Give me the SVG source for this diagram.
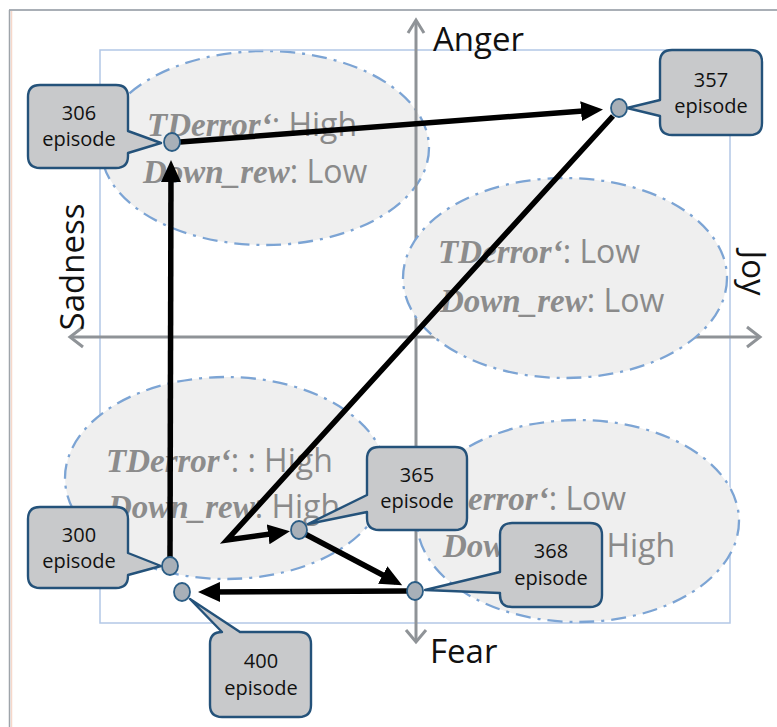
<svg xmlns="http://www.w3.org/2000/svg" width="777" height="727" viewBox="0 0 777 727">
  <defs>
    <style>
      .region { fill: #efefef; stroke: #7ca4d4; stroke-width: 2.3; stroke-dasharray: 15 7 3 7; }
      .rtext { font-family: "Open Sans", "Liberation Sans", sans-serif; font-size: 32px; fill: #8a8a8a; }
      .var { font-family: "Liberation Serif", serif; font-weight: bold; font-style: italic; font-size: 33px; fill: #8c8c8c; }
      .axis { stroke: #8f9397; stroke-width: 3; fill: none; }
      .axislabel { font-family: "Open Sans", "Liberation Sans", sans-serif; font-size: 33px; fill: #111; }
      .call { fill: #c8c9cb; stroke: #24527a; stroke-width: 2.4; stroke-linejoin: round; }
      .ctext { font-family: "Open Sans", "Liberation Sans", sans-serif; font-size: 20px; fill: #111; text-anchor: middle; }
      .node { fill: #a8b0b8; stroke: #2b5d85; stroke-width: 1.8; }
      .edge { stroke: #000; stroke-width: 5.5; fill: none; stroke-linejoin: miter; marker-end: url(#ah); }
    </style>
    <marker id="ah" markerUnits="userSpaceOnUse" markerWidth="24" markerHeight="20" refX="15" refY="10" orient="auto">
      <path d="M0,0 L22,10 L0,20 Z" fill="#000"/>
    </marker>
  </defs>

  <!-- page frame -->
  <line x1="11.5" y1="11" x2="11.5" y2="727" stroke="#f6d8ca" stroke-width="1.5"/>
  <line x1="9" y1="10" x2="777" y2="10" stroke="#a9afb6" stroke-width="2"/>
  <line x1="9.5" y1="10" x2="9.5" y2="727" stroke="#9ea4aa" stroke-width="1.5"/>

  <!-- upper-left region (sits under the frame and axes) -->
  <g id="region-anger-sad">
    <ellipse class="region" cx="265" cy="148" rx="164" ry="97"/>
    <text class="rtext" x="147" y="136"><tspan class="var">TDerror‘</tspan>: High</text>
    <text class="rtext" x="143" y="183"><tspan class="var">Down_rew</tspan>: Low</text>
  </g>

  <!-- plot frame -->
  <rect x="100" y="50" width="630" height="573" fill="none" stroke="#b3c7e6" stroke-width="1.5"/>

  <!-- axes -->
  <g id="axes">
    <line class="axis" x1="416" y1="21" x2="416" y2="641"/>
    <polyline class="axis" points="408,33 416,20 424,33"/>
    <polyline class="axis" points="406,630 416,642 426,630"/>
    <line class="axis" x1="71" y1="337" x2="759" y2="337"/>
    <polyline class="axis" points="83,327 70,337 83,347"/>
    <polyline class="axis" points="747,327 760,337 747,347"/>
    <text class="axislabel" x="433" y="51">Anger</text>
    <text class="axislabel" x="430" y="663">Fear</text>
    <text class="axislabel" transform="translate(84,267) rotate(-90)" text-anchor="middle" font-size="35">Sadness</text>
    <text class="axislabel" transform="translate(742,273) rotate(90)" text-anchor="middle">Joy</text>
  </g>

  <!-- remaining regions -->
  <g id="region-joy">
    <ellipse class="region" cx="565" cy="278" rx="162" ry="100"/>
    <text class="rtext" x="438" y="263"><tspan class="var">TDerror‘</tspan>: Low</text>
    <text class="rtext" x="440" y="312"><tspan class="var">Down_rew</tspan>: Low</text>
  </g>
  <g id="region-sad-fear">
    <ellipse class="region" cx="226" cy="478" rx="161" ry="101"/>
    <text class="rtext" x="106" y="472"><tspan class="var">TDerror‘</tspan>: : High</text>
    <text class="rtext" x="108" y="518"><tspan class="var">Down_rew</tspan>: High</text>
  </g>
  <g id="region-fear-joy">
    <ellipse class="region" cx="578" cy="521" rx="161" ry="101"/>
    <text class="rtext" x="424" y="510"><tspan class="var">TDerror‘</tspan>: Low</text>
    <text class="rtext" x="443" y="557"><tspan class="var">Down_rew</tspan>: High</text>
  </g>

  <!-- trajectory -->
  <g id="connectors">
    <line class="edge" x1="170" y1="558" x2="171" y2="167"/>
    <line class="edge" x1="180" y1="142" x2="596" y2="110"/>
    <polyline class="edge" points="613,116 227,540 283,532.3"/>
    <line class="edge" x1="305" y1="534" x2="396" y2="582"/>
    <line class="edge" x1="407" y1="591" x2="205" y2="592"/>
  </g>

  <!-- episodes -->
  <g id="ep306">
    <path class="call" d="M40,85 H116 Q128,85 128,97 V131 L161,143 L128,153 V156 Q128,168 116,168 H40 Q28,168 28,156 V97 Q28,85 40,85 Z"/>
    <text class="ctext" x="79" y="120">306</text>
    <text class="ctext" x="79" y="146">episode</text>
    <ellipse class="node" cx="172" cy="142" rx="8" ry="9"/>
  </g>
  <g id="ep357">
    <path class="call" d="M672,50 H750 Q762,50 762,62 V123 Q762,135 750,135 H672 Q660,135 660,123 V116 L627,108 L660,100 V62 Q660,50 672,50 Z"/>
    <text class="ctext" x="711" y="87">357</text>
    <text class="ctext" x="711" y="113">episode</text>
    <ellipse class="node" cx="619" cy="108" rx="8" ry="9"/>
  </g>
  <g id="ep300">
    <path class="call" d="M40,507 H116 Q128,507 128,519 V553 L161,566 L128,575 V576 Q128,588 116,588 H40 Q28,588 28,576 V519 Q28,507 40,507 Z"/>
    <text class="ctext" x="79" y="542">300</text>
    <text class="ctext" x="79" y="568">episode</text>
    <ellipse class="node" cx="170" cy="566" rx="8" ry="9"/>
  </g>
  <g id="ep400">
    <path class="call" d="M210,644 Q210,632 222,632 L190,599 L240,632 H299 Q311,632 311,644 V705 Q311,717 299,717 H222 Q210,717 210,705 Z"/>
    <text class="ctext" x="261" y="668">400</text>
    <text class="ctext" x="261" y="695">episode</text>
    <ellipse class="node" cx="182" cy="592" rx="8" ry="9"/>
  </g>
  <g id="ep365">
    <path class="call" d="M379,447 H455 Q467,447 467,459 V518 Q467,530 455,530 H379 Q367,530 367,518 V512 L308,524 L367,495 V459 Q367,447 379,447 Z"/>
    <text class="ctext" x="417" y="482">365</text>
    <text class="ctext" x="417" y="508">episode</text>
    <ellipse class="node" cx="299" cy="530" rx="8" ry="9"/>
  </g>
  <g id="ep368">
    <path class="call" d="M512,523 H590 Q602,523 602,535 V595 Q602,607 590,607 H512 Q500,607 500,595 V593 L425,590 L500,572 V535 Q500,523 512,523 Z"/>
    <text class="ctext" x="551" y="558">368</text>
    <text class="ctext" x="551" y="585">episode</text>
    <ellipse class="node" cx="415" cy="591" rx="8" ry="9"/>
  </g>
</svg>
